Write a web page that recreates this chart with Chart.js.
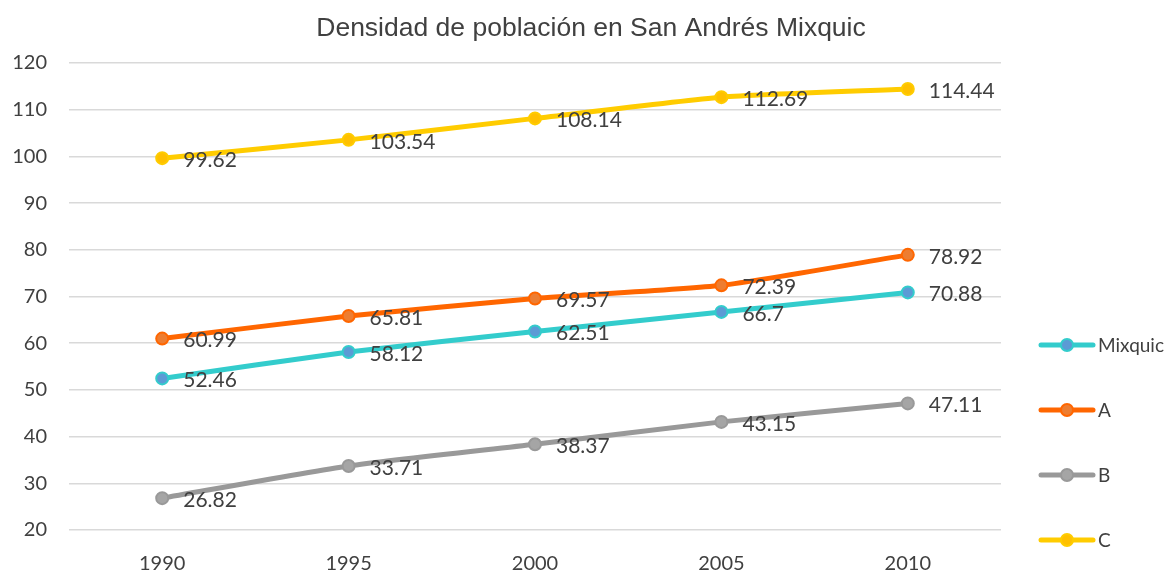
<!DOCTYPE html>
<html lang="es">
<head>
    <meta charset="UTF-8">
    <title>Densidad de población</title>
    <style>
        html, body { margin: 0; padding: 0; background: #fff; }
        #wrap { width: 1171px; height: 571px; }
    </style>
</head>
<body>
    <div id="wrap"><canvas id="chart" width="1171" height="571"></canvas></div>

    <script src="https://cdn.jsdelivr.net/npm/chart.js@4/dist/chart.umd.min.js"></script>
    <script>
        // datos
        var years = ["1990", "1995", "2000", "2005", "2010"];
        var mixquic = [52.46, 58.12, 62.51, 66.7, 70.88];
        var serieA = [60.99, 65.81, 69.57, 72.39, 78.92];
        var serieB = [26.82, 33.71, 38.37, 43.15, 47.11];
        var serieC = [99.62, 103.54, 108.14, 112.69, 114.44];
        var seriesNames = ["Mixquic", "A", "B", "C"];
        var chartTitle = "Densidad de población en San Andrés Mixquic";

        var textColor = "#404040";

        function ds(label, data, line, fill) {
            return {
                label: label,
                data: data,
                borderColor: line,
                backgroundColor: fill,
                pointBackgroundColor: fill,
                pointBorderColor: line,
                pointBorderWidth: 2,
                pointRadius: 6,
                borderWidth: 5,
                tension: 0.2
            };
        }

        // titulo centrado sobre todo el lienzo
        const topTitle = {
            id: "topTitle",
            afterDraw(chart) {
                const ctx = chart.ctx;
                ctx.save();
                ctx.font = "26.5px 'Liberation Sans'";
                ctx.fillStyle = textColor;
                ctx.textAlign = "center";
                ctx.textBaseline = "middle";
                ctx.fillText(chartTitle, 591, 29);
                ctx.restore();
            }
        };

        // etiquetas de datos a la derecha de cada punto
        const valueLabels = {
            id: "valueLabels",
            afterDatasetsDraw(chart) {
                const ctx = chart.ctx;
                ctx.save();
                ctx.font = "21px Lato";
                ctx.fillStyle = textColor;
                ctx.textAlign = "left";
                ctx.textBaseline = "middle";
                chart.data.datasets.forEach((d, i) => {
                    chart.getDatasetMeta(i).data.forEach((pt, j) => {
                        ctx.fillText(String(d.data[j]), pt.x + 21, pt.y + 2);
                    });
                });
                ctx.restore();
            }
        };

        // leyenda vertical a la derecha
        const sideLegend = {
            id: "sideLegend",
            afterDraw(chart) {
                const ctx = chart.ctx;
                const ys = [345, 410, 475, 540];
                ctx.save();
                chart.data.datasets.forEach((d, i) => {
                    const y = ys[i];
                    ctx.strokeStyle = d.borderColor;
                    ctx.lineWidth = 5;
                    ctx.lineCap = "round";
                    ctx.beginPath();
                    ctx.moveTo(1041, y);
                    ctx.lineTo(1093, y);
                    ctx.stroke();
                    ctx.beginPath();
                    ctx.arc(1067, y, 6, 0, Math.PI * 2);
                    ctx.fillStyle = d.pointBackgroundColor;
                    ctx.fill();
                    ctx.lineWidth = 2;
                    ctx.stroke();
                    ctx.fillStyle = textColor;
                    ctx.font = "19px Lato";
                    ctx.textBaseline = "middle";
                    ctx.fillText(d.label, 1098, y + 1);
                });
                ctx.restore();
            }
        };

        new Chart(document.getElementById("chart"), {
            type: "line",
            data: {
                labels: years,
                datasets: [
                    ds(seriesNames[0], mixquic, "#33CCCC", "#5B9BD5"),
                    ds(seriesNames[1], serieA, "#FF6600", "#ED7D31"),
                    ds(seriesNames[2], serieB, "#999999", "#A5A5A5"),
                    ds(seriesNames[3], serieC, "#FFCC00", "#FFC000")
                ]
            },
            options: {
                responsive: false,
                animation: false,
                layout: { padding: { left: 0, right: 170, top: 63, bottom: 0 } },
                plugins: {
                    legend: { display: false },
                    tooltip: { enabled: false },
                    title: { display: false }
                },
                scales: {
                    x: {
                        offset: true,
                        grid: { display: false },
                        border: { display: false },
                        ticks: { color: textColor, font: { family: "Lato", size: 20 }, padding: 14 },
                        afterFit(scale) { scale.height = 41; }
                    },
                    y: {
                        min: 20,
                        max: 120,
                        ticks: { stepSize: 10, color: textColor, font: { family: "Lato", size: 20 }, padding: 22 },
                        grid: { color: "#d9d9d9", lineWidth: 1.5, drawTicks: false },
                        border: { display: false },
                        afterFit(scale) { scale.width = 69; }
                    }
                }
            },
            plugins: [topTitle, valueLabels, sideLegend]
        });
    </script>
</body>
</html>
